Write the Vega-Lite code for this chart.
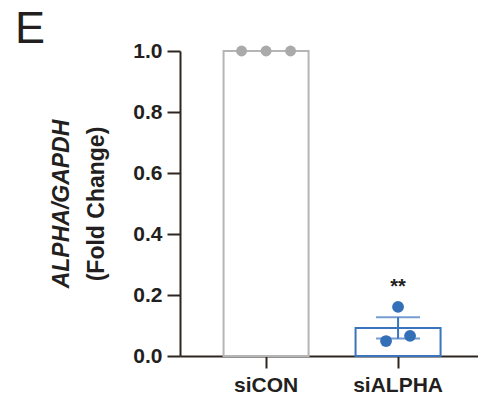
{
  "$schema": "https://vega.github.io/schema/vega-lite/v6.json",
  "autosize": "none",
  "width": 298,
  "height": 305,
  "padding": {"left": 180, "top": 51, "right": 0, "bottom": 48},
  "title": {"text": "E", "fontSize": 45, "font": "Liberation Sans", "fontWeight": "normal", "color": "#231f20", "anchor": "start", "frame": "group", "dx": -165, "dy": 12, "offset": 0},
  "config": {"view": {"stroke": null}, "font": "Liberation Sans"},
  "data": {"values": [
    {"group": "siCON", "rep": "1", "value": 1.0},
    {"group": "siCON", "rep": "2", "value": 1.0},
    {"group": "siCON", "rep": "3", "value": 1.0},
    {"group": "siALPHA", "rep": "1", "value": 0.049},
    {"group": "siALPHA", "rep": "2", "value": 0.161},
    {"group": "siALPHA", "rep": "3", "value": 0.066}
  ]},
  "encoding": {
    "x": {"field": "group", "type": "nominal", "sort": ["siCON", "siALPHA"],
      "scale": {"paddingInner": 0, "paddingOuter": 0.1288, "align": 0.59},
      "axis": {"title": null, "labelAngle": 0, "labelFontSize": 21, "labelFontWeight": "bold", "labelColor": "#231f20", "labelPadding": 6, "domainColor": "#2d2620", "domainWidth": 2, "tickColor": "#2d2620", "tickWidth": 2, "tickSize": 12}}
  },
  "layer": [
    {
      "mark": {"type": "bar", "width": 85, "fill": "white", "strokeWidth": 2},
      "encoding": {
        "y": {"aggregate": "mean", "field": "value", "type": "quantitative", "scale": {"domain": [0, 1], "nice": false},
          "axis": {"values": [0, 0.2, 0.4, 0.6, 0.8, 1.0], "format": ".1f", "grid": false, "labelFontSize": 21, "labelFontWeight": "bold", "labelColor": "#231f20", "labelPadding": 5, "domainColor": "#2d2620", "domainWidth": 2, "tickColor": "#2d2620", "tickWidth": 2, "tickSize": 13, "title": "(Fold Change)", "titleFontSize": 23, "titleFontWeight": "bold", "titleColor": "#231f20", "titlePadding": 24}},
        "stroke": {"field": "group", "type": "nominal", "scale": {"domain": ["siCON", "siALPHA"], "range": ["#b5b5b5", "#3a74bd"]}, "legend": null}
      }
    },
    {
      "mark": {"type": "errorbar", "extent": "stderr", "thickness": 2, "ticks": {"size": 44, "thickness": 2}},
      "encoding": {
        "y": {"field": "value", "type": "quantitative", "scale": {"domain": [0, 1], "nice": false}, "axis": null},
        "color": {"field": "group", "type": "nominal", "scale": {"domain": ["siCON", "siALPHA"], "range": ["#b5b5b5", "#3a74bd"]}, "legend": null}
      }
    },
    {
      "transform": [{"filter": "datum.group === 'siCON'"}],
      "mark": {"type": "point", "filled": true, "opacity": 1, "size": 120},
      "encoding": {
        "y": {"field": "value", "type": "quantitative", "scale": {"domain": [0, 1], "nice": false}, "axis": null},
        "xOffset": {"field": "rep", "type": "nominal", "scale": {"range": [41.5, 90.5], "paddingInner": 0, "paddingOuter": 0}},
        "fill": {"field": "group", "type": "nominal", "scale": {"domain": ["siCON", "siALPHA"], "range": ["#aaaaaa", "#3470b8"]}, "legend": null}
      }
    },
    {
      "transform": [{"filter": "datum.group === 'siALPHA'"}],
      "mark": {"type": "point", "filled": true, "opacity": 1, "size": 140},
      "encoding": {
        "y": {"field": "value", "type": "quantitative", "scale": {"domain": [0, 1], "nice": false}, "axis": null},
        "xOffset": {"field": "rep", "type": "nominal", "scale": {"range": [54, 78], "paddingInner": 0, "paddingOuter": 0}},
        "fill": {"field": "group", "type": "nominal", "scale": {"domain": ["siCON", "siALPHA"], "range": ["#aaaaaa", "#3470b8"]}, "legend": null}
      }
    },
    {
      "data": {"values": [{"group": "siALPHA", "label": "**", "value": 0.225}]},
      "mark": {"type": "text", "fontSize": 20, "fontWeight": "bold", "color": "#231f20", "baseline": "middle"},
      "encoding": {
        "text": {"field": "label"},
        "y": {"field": "value", "type": "quantitative", "scale": {"domain": [0, 1], "nice": false},
          "axis": {"orient": "left", "labels": false, "ticks": false, "domain": false, "grid": false, "title": "ALPHA/GAPDH", "titleFontSize": 23, "titleFontWeight": "bold", "titleFontStyle": "italic", "titleColor": "#231f20", "titlePadding": 107}}
      }
    }
  ],
  "resolve": {"scale": {"y": "independent", "xOffset": "independent"}, "axis": {"y": "independent"}}
}
